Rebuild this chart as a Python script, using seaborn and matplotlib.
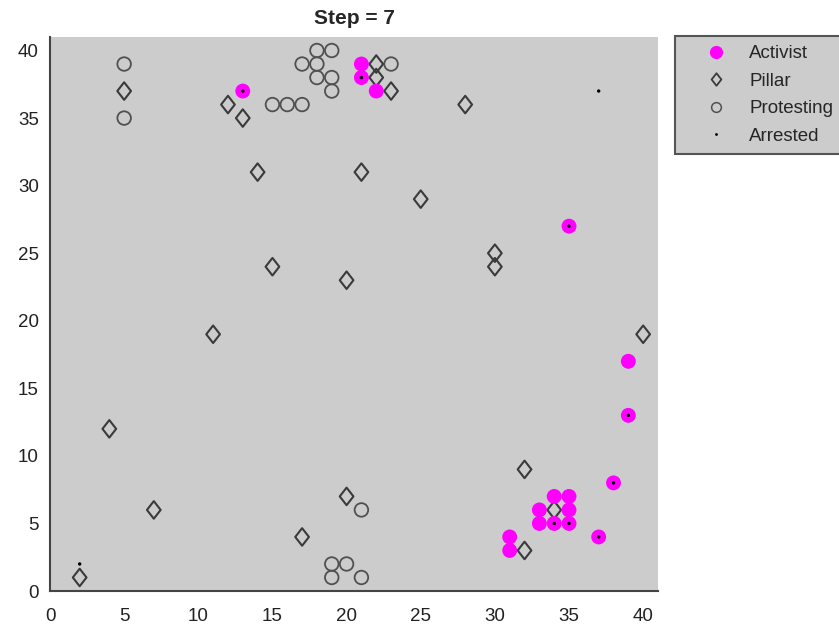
import matplotlib
matplotlib.use("Agg")
import matplotlib.pyplot as plt
import seaborn as sns
import pandas as pd
from matplotlib.path import Path
from matplotlib.lines import Line2D

# ---- data ----
protest_x = [5, 5, 17, 18, 19, 18, 18, 19, 19, 15, 16, 17, 23, 21, 19, 20, 19, 21]
protest_y = [39, 35, 39, 40, 40, 39, 38, 38, 37, 36, 36, 36, 39, 6, 2, 2, 1, 1]

pillar_x = [5, 12, 13, 14, 22, 22, 23, 28, 21, 25, 30, 30, 15, 20, 11, 40, 4, 32, 7, 20, 34, 17, 32, 2]
pillar_y = [37, 36, 35, 31, 39, 38, 37, 36, 31, 29, 25, 24, 24, 23, 19, 19, 12, 9, 6, 7, 6, 4, 3, 1]

activist_x = [13, 21, 21, 22, 35, 39, 39, 38, 34, 35, 33, 35, 33, 34, 35, 37, 31, 31]
activist_y = [37, 39, 38, 37, 27, 17, 13, 8, 7, 7, 6, 6, 5, 5, 5, 4, 4, 3]

arrested_x = [13, 21, 35, 39, 38, 34, 35, 37, 37, 2]
arrested_y = [37, 38, 27, 13, 8, 5, 5, 4, 37, 2]

legend_labels = ["Activist", "Pillar", "Protesting", "Arrested"]
title_text = "Step = 7"

sns.set_style("white")
plt.rcParams['font.family'] = ['Liberation Sans', 'DejaVu Sans']

fig = plt.figure(figsize=(8.39, 6.28), dpi=100)
ax = fig.add_axes([50/839, 1 - 591/628, 608/839, (591-37)/628])
ax.set_facecolor("#cccccc")

diamond = Path([(0, 1), (0.78, 0), (0, -1), (-0.78, 0), (0, 1)],
               [Path.MOVETO, Path.LINETO, Path.LINETO, Path.LINETO, Path.CLOSEPOLY])

df_p = pd.DataFrame({"x": protest_x, "y": protest_y})
df_d = pd.DataFrame({"x": pillar_x, "y": pillar_y})
df_a = pd.DataFrame({"x": activist_x, "y": activist_y})
df_r = pd.DataFrame({"x": arrested_x, "y": arrested_y})

sns.scatterplot(data=df_p, x="x", y="y", ax=ax, marker="o", s=95,
                facecolor="none", edgecolor="#505050", linewidth=1.3, legend=False, zorder=3)
sns.scatterplot(data=df_d, x="x", y="y", ax=ax, marker=diamond, s=160,
                facecolor="none", edgecolor="#3a3a3a", linewidth=1.5, legend=False, zorder=3)
sns.scatterplot(data=df_a, x="x", y="y", ax=ax, marker="o", s=115,
                color="#ff00ff", edgecolor="none", linewidth=0, legend=False, zorder=4)
sns.scatterplot(data=df_r, x="x", y="y", ax=ax, marker="o", s=6,
                color="black", edgecolor="none", linewidth=0, legend=False, zorder=5)

ax.set_xlim(0, 41)
ax.set_ylim(0, 41)
ax.set_xticks(range(0, 41, 5))
ax.set_yticks(range(0, 41, 5))
ax.set_xlabel("")
ax.set_ylabel("")
for side in ["top", "right"]:
    ax.spines[side].set_visible(False)
for side in ["left", "bottom"]:
    ax.spines[side].set_color("#444444")
    ax.spines[side].set_linewidth(1.5)
ax.tick_params(direction="in", length=5, width=1.2, color="#444444",
               labelsize=13.5, labelcolor="#222222")
ax.tick_params(axis="x", pad=12)
ax.tick_params(axis="y", pad=8)
ax.set_title(title_text, fontsize=15, fontweight="bold", pad=9)

handles = [
    Line2D([], [], linestyle="none", marker="o", markersize=9.5,
           markerfacecolor="#ff00ff", markeredgecolor="none"),
    Line2D([], [], linestyle="none", marker=diamond, markersize=9,
           markerfacecolor="none", markeredgecolor="#3a3a3a", markeredgewidth=1.3),
    Line2D([], [], linestyle="none", marker="o", markersize=7,
           markerfacecolor="none", markeredgecolor="#505050", markeredgewidth=1.1),
    Line2D([], [], linestyle="none", marker="o", markersize=2,
           markerfacecolor="black", markeredgecolor="none"),
]
leg = fig.legend(handles, legend_labels, loc="upper left",
                 bbox_to_anchor=(675/839, 1 - 36/628), fontsize=13.5,
                 frameon=True, fancybox=False, facecolor="#cccccc",
                 edgecolor="#555555", framealpha=1, handlelength=3.4,
                 handletextpad=0.05, labelspacing=0.55, borderpad=0.5,
                 borderaxespad=0)
leg.get_frame().set_linewidth(1.5)

fig.savefig("out.png", dpi=100)
